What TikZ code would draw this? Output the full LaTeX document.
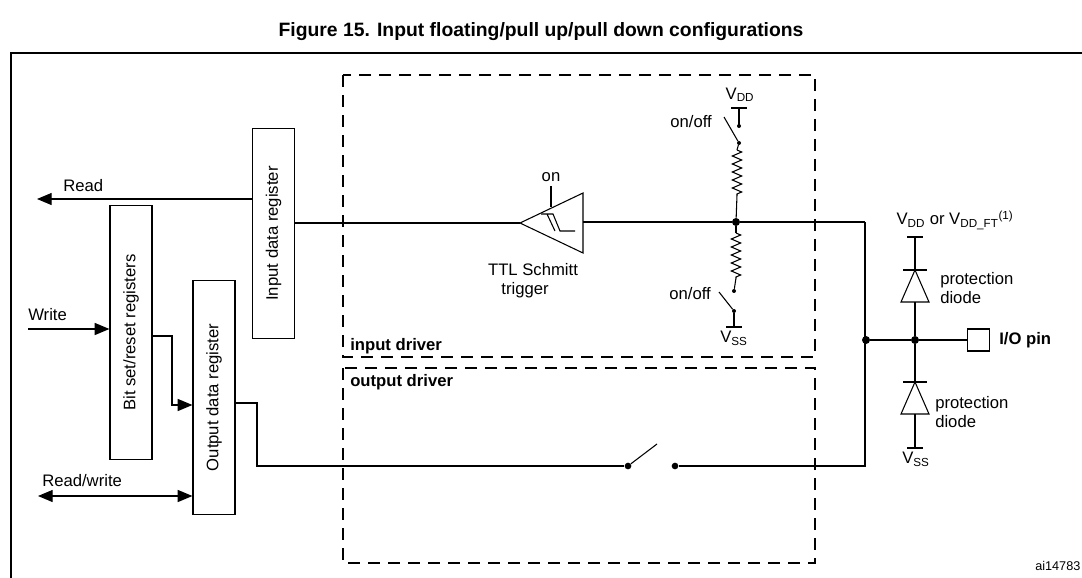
\documentclass[tikz,border=0pt]{standalone}
\usepackage{fontspec}
\setmainfont{Liberation Sans}
\usetikzlibrary{arrows.meta,decorations.pathmorphing}
\begin{document}
\begin{tikzpicture}[x=0.75pt,y=-0.75pt,>={Triangle[length=11pt,width=9pt]},
  txt/.style={font=\fontsize{12.5}{14}\selectfont,inner sep=0pt},
  reg/.style={draw,line width=0.9pt,minimum width=31.5pt,inner sep=0pt,font=\fontsize{12.5}{14}\selectfont},
  wire/.style={line width=0.9pt},
  drv/.style={dashed,line width=0.9pt,dash pattern=on 9pt off 6pt},
  dot/.style={circle,fill,inner sep=0pt,minimum size=6pt},
  sdot/.style={circle,fill,inner sep=0pt,minimum size=3pt},
  res/.style={decorate,decoration={zigzag,segment length=6pt,amplitude=3.5pt}}]
\useasboundingbox (0,0) rectangle (1082,578);
% frame and title
\draw[line width=0.9pt] (11,578) -- (11,53) -- (1082,53);
\node[font=\bfseries\fontsize{14.5}{16}\selectfont] (title) at (541,32) {Figure 15. Input floating/pull up/pull down configurations};
% registers
\node[reg,minimum height=158pt] (idr) at (273.5,233.5) {\rotatebox{90}{Input data register}};
\node[reg,minimum height=190pt] (bsr) at (131,332.5) {\rotatebox{90}{Bit set/reset registers}};
\node[reg,minimum height=176pt] (odr) at (214,397.5) {\rotatebox{90}{Output data register}};
% left side
\coordinate (rd) at (37,199);
\coordinate (wr) at (28,329);
\coordinate (rw) at (38,496);
\draw[wire,->] (idr.west |- rd) -- (rd);
\node[txt,anchor=south west] at (63,192) {Read};
\draw[wire,->] (wr) -- (bsr.west |- wr);
\node[txt,anchor=south west] at (28,321) {Write};
\draw[wire,->] (bsr.east |- 0,336) -- (172,336) -- (172,405) -- (odr.west |- 0,405);
\draw[wire,<->] (rw) -- (odr.west |- rw);
\node[txt,anchor=south west] at (42,487) {Read/write};
% driver boxes
\draw[drv] (343,75) rectangle (815,357);
\draw[drv] (343,368) rectangle (815,563);
\node[txt,font=\bfseries\fontsize{12.5}{14}\selectfont,anchor=south west] at (350,354) {input driver};
\node[txt,font=\bfseries\fontsize{12.5}{14}\selectfont,anchor=north west] at (350,374) {output driver};
% schmitt trigger
\coordinate (st) at (520,223);
\draw[line width=0.8pt] (st) -- (583,193) -- (583,253) -- cycle;
\draw[line width=0.8pt] (541,214) -- (553,214) -- (560,231) -- (575,231)
  (547,214) -- (555,231);
\draw[line width=0.8pt] (551,186) -- (551,207);
\node[txt,anchor=south] at (551,182) {on};
\node[txt,align=center,anchor=north] at (525,263) {\hspace*{12pt}TTL Schmitt\\trigger};
\node[dot] (jn) at (736,222) {};
\coordinate (rt) at (865,222);
\draw[wire] (idr.east |- 0,223) -- (st) (583,222) -- (jn) -- (rt);
% pull up
\node[txt,anchor=south] at (740,102) {V\textsubscript{DD}};
\draw[wire] (731,108) -- (747,108) (739,108) -- (739,126);
\node[sdot] (pu1) at (739,126) {};
\node[sdot] (pu2) at (739,143) {};
\draw[line width=0.8pt] (pu2) -- (724,117);
\node[txt,anchor=east] at (712,122) {on/off};
\draw[line width=0.8pt] (pu2) -- (737,150);
\draw[line width=0.8pt,res] (737,150) -- (737,195);
\draw[line width=0.8pt] (737,195) -- (jn);
% pull down
\draw[line width=0.8pt] (jn) -- (736,233);
\draw[line width=0.8pt,res] (736,233) -- (736,278);
\node[sdot] (pd1) at (734,291) {};
\node[sdot] (pd2) at (734,311) {};
\draw[line width=0.8pt] (736,278) -- (pd1);
\draw[line width=0.8pt] (pd2) -- (719,292);
\node[txt,anchor=east] at (711,294) {on/off};
\draw[wire] (pd2) -- (734,327) (726,327) -- (742,327);
\node[txt,anchor=north] at (734,331) {V\textsubscript{SS}};
% output switch
\node[sdot,minimum size=5pt] (sw1) at (628,466) {};
\node[sdot,minimum size=5pt] (sw2) at (675,466) {};
\draw[line width=0.8pt] (sw1) -- (657,444);
\draw[wire] (odr.east |- 0,403) -- (257,403) -- (257,466) -- (sw1);
\draw[wire] (sw2) -- (865,466) -- (rt);
% pin and diodes
\node[dot] (jp) at (866,340) {};
\node[dot] (jd) at (915,340) {};
\node[draw,line width=0.9pt,minimum size=16.5pt,inner sep=0pt,anchor=west] (pin) at (967,340) {};
\node[txt,font=\bfseries\fontsize{12.5}{14}\selectfont,anchor=west] at (999,340) {I/O pin};
\draw[wire] (jp) -- (jd) -- (pin);
\foreach \y in {270,382} {
  \draw[wire] (903,\y) -- (927,\y);
  \draw[line width=0.8pt] (915,\y) -- (901,\y+32) -- (929,\y+32) -- cycle;
}
\draw[wire] (915,237) -- (915,270) (915,302) -- (jd) -- (915,382) (915,414) -- (915,448);
\draw[wire] (907,237) -- (923,237) (907,448) -- (923,448);
\node[txt,anchor=south] at (955,230) {V\textsubscript{DD} or V\textsubscript{DD\_FT}\textsuperscript{(1)}};
\node[txt,anchor=north] at (916,452) {V\textsubscript{SS}};
\node[txt,align=left,anchor=west] at (940,288) {protection\\diode};
\node[txt,align=left,anchor=west] at (935,412) {protection\\diode};
\node[txt,font=\fontsize{9.5}{11}\selectfont,anchor=west] at (1035,566) {ai14783};
\end{tikzpicture}
\end{document}
